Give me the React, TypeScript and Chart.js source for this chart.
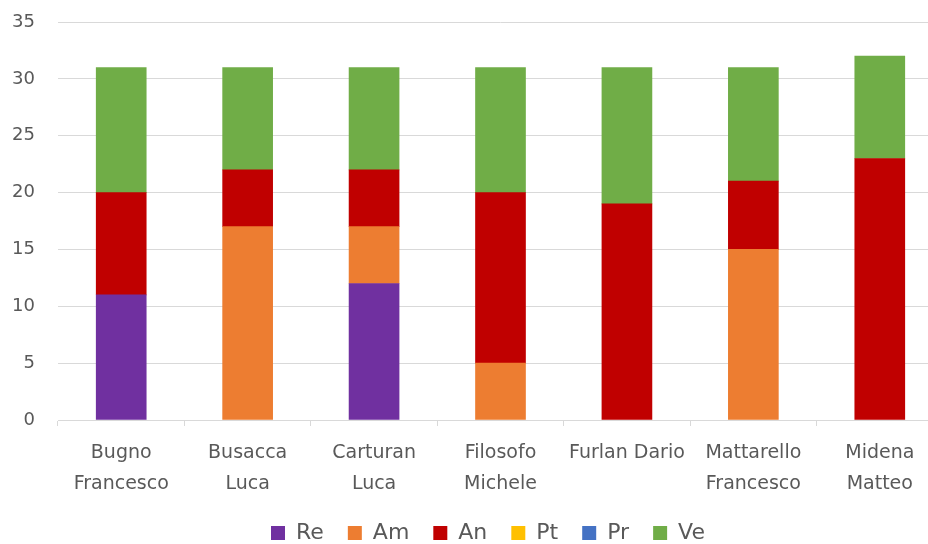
import React, { useEffect, useRef } from "react";
import { Chart, registerables } from "chart.js";

Chart.register(...registerables);

const categories: string[][] = [
  ["Bugno", "Francesco"],
  ["Busacca", "Luca"],
  ["Carturan", "Luca"],
  ["Filosofo", "Michele"],
  ["Furlan Dario"],
  ["Mattarello", "Francesco"],
  ["Midena", "Matteo"],
];

const seriesNames = ["Re", "Am", "An", "Pt", "Pr", "Ve"];
const re = [11, 0, 12, 0, 0, 0, 0];
const am = [0, 17, 5, 5, 0, 15, 0];
const an = [9, 5, 5, 15, 19, 6, 23];
const pt = [0, 0, 0, 0, 0, 0, 0];
const pr = [0, 0, 0, 0, 0, 0, 0];
const ve = [11, 9, 9, 11, 12, 10, 9];
const colors = ["#7030A0", "#ED7D31", "#C00000", "#FFC000", "#4472C4", "#70AD47"];
const yTicks = [0, 5, 10, 15, 20, 25, 30, 35];

export default function App() {
  const ref = useRef<HTMLCanvasElement>(null);
  useEffect(() => {
    if (!ref.current) return;
    const values = [re, am, an, pt, pr, ve];
    const font = "'DejaVu Sans', sans-serif";
    const chart = new Chart(ref.current, {
      type: "bar",
      data: {
        labels: categories as any,
        datasets: seriesNames.map((n, i) => ({
          label: n,
          data: values[i].map((v) => (v === 0 ? null : v)),
          backgroundColor: colors[i],
          borderWidth: 0,
          barThickness: 50,
          yAxisID: "y",
        })),
      },
      options: {
        animation: false,
        responsive: false,
        maintainAspectRatio: false,
        layout: { padding: { top: 22, right: 0, bottom: 0, left: 0 } },
        plugins: {
          tooltip: { enabled: false },
          legend: {
            position: "bottom",
            labels: {
              color: "#595959",
              font: { family: font, size: 22 },
              boxWidth: 14,
              boxHeight: 14,
              padding: 24,
            },
          },
        },
        scales: {
          x: {
            stacked: true,
            afterFit: (s: any) => {
              s.height = 78;
              s.paddingLeft = 0;
              s.paddingRight = 0;
            },
            grid: {
              drawOnChartArea: false,
              drawTicks: true,
              tickLength: 6,
              color: "#d9d9d9",
              offset: true,
            },
            border: { color: "#d9d9d9", width: 1 },
            ticks: {
              color: "#595959",
              font: { family: font, size: 19, lineHeight: 1.6 },
              padding: 12,
              maxRotation: 0,
              autoSkip: false,
            },
          },
          y: {
            stacked: true,
            min: 0,
            max: 35,
            afterFit: (s: any) => {
              s.width = 58;
              s.paddingTop = 0;
              s.paddingBottom = 0;
            },
            afterBuildTicks: (s: any) => {
              s.ticks = yTicks.map((v) => ({ value: v }));
            },
            grid: { color: "#d9d9d9", drawTicks: false, lineWidth: 1 },
            border: { display: false },
            ticks: {
              color: "#595959",
              font: { family: font, size: 18 },
              padding: 23,
            },
          },
          y2: {
            type: "linear",
            position: "right",
            display: true,
            min: 0,
            max: 35,
            afterFit: (s: any) => {
              s.width = 33;
              s.paddingTop = 0;
              s.paddingBottom = 0;
            },
            grid: { drawOnChartArea: false, drawTicks: false },
            border: { display: false },
            ticks: { display: false },
          },
        },
      },
    });
    return () => chart.destroy();
  }, []);
  return (
    <div
      style={{
        position: "absolute",
        left: 0,
        top: 0,
        width: 928,
        height: 544,
        overflow: "hidden",
        background: "#fff",
      }}
    >
      <canvas ref={ref} width={976} height={554} style={{ width: 976, height: 554, display: "block" }} />
    </div>
  );
}
